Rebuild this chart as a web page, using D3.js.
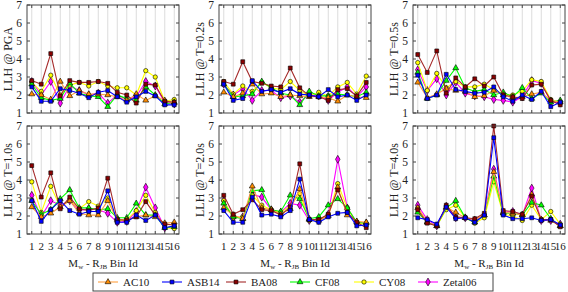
<!DOCTYPE html>
<html>
<head>
<meta charset="utf-8">
<script src="https://cdn.jsdelivr.net/npm/d3@7"></script>
<style>
  body { margin: 0; background: #fff; }
  text { font-family: "Liberation Serif", "DejaVu Serif", serif; fill: #222; }
</style>
</head>
<body>
<div id="root"></div>
<script>
// bins and panels
const bins = [1, 2, 3, 4, 5, 6, 7, 8, 9, 10, 11, 12, 13, 14, 15, 16];
const periods = ["PGA", "T=0.2s", "T=0.5s", "T=1.0s", "T=2.0s", "T=4.0s"];
const yTicks = [1, 2, 3, 4, 5, 6, 7];
const models = ["AC10", "ASB14", "BA08", "CF08", "CY08", "Zetal06"];

// LLH per model, one row per period (PGA, 0.2, 0.5, 1.0, 2.0, 4.0)
const AC10 = [
  [2.05, 2.0, 1.75, 2.75, 1.95, 2.25, 2.05, 2.05, 2.0, 1.9, 1.7, 2.05, 1.7, 1.95, 1.7, 1.55],
  [2.15, 1.9, 2.1, 2.6, 2.05, 2.1, 1.9, 2.0, 1.95, 1.9, 1.9, 1.85, 1.65, 2.0, 1.9, 1.85],
  [2.7, 1.85, 2.05, 2.35, 2.25, 2.2, 1.9, 1.95, 2.25, 2.0, 1.85, 1.9, 2.05, 2.15, 1.7, 1.6],
  [2.5, 1.95, 2.15, 2.5, 2.85, 2.15, 2.05, 2.05, 2.85, 1.8, 1.8, 1.95, 2.05, 1.95, 1.6, 1.65],
  [2.45, 2.05, 1.85, 3.65, 2.45, 2.35, 2.1, 2.4, 3.5, 1.8, 1.75, 2.0, 3.6, 2.05, 1.7, 1.65],
  [2.45, 1.65, 1.45, 2.5, 2.2, 1.9, 1.8, 2.05, 4.45, 2.2, 2.15, 2.05, 3.2, 1.8, 1.75, 1.45]
];
const ASB14 = [
  [2.45, 1.65, 1.65, 2.35, 2.25, 2.1, 1.85, 2.15, 2.25, 1.9, 1.6, 1.9, 2.2, 1.95, 1.45, 1.45],
  [2.6, 1.7, 1.8, 2.8, 2.2, 2.3, 2.15, 2.35, 2.05, 2.0, 1.9, 2.3, 1.9, 2.0, 1.7, 2.0],
  [3.1, 1.8, 2.0, 3.15, 2.3, 2.2, 2.1, 2.15, 2.45, 1.9, 1.65, 2.0, 1.75, 2.2, 1.35, 1.6],
  [2.85, 1.7, 2.35, 2.85, 2.3, 2.1, 2.25, 2.25, 3.4, 1.65, 1.65, 2.05, 1.75, 2.05, 1.35, 1.45],
  [2.3, 1.65, 1.65, 3.05, 2.05, 2.1, 1.95, 2.3, 4.05, 1.8, 1.65, 1.95, 2.15, 2.2, 1.45, 1.5],
  [1.9, 1.8, 1.55, 2.5, 1.85, 1.9, 1.65, 2.05, 6.35, 2.05, 1.85, 1.85, 1.9, 1.75, 1.8, 1.5]
];
const BA08 = [
  [2.8, 2.6, 4.3, 1.95, 2.8, 2.7, 2.7, 2.75, 2.65, 2.15, 2.0, 1.55, 2.6, 2.55, 1.65, 1.6],
  [2.75, 2.6, 3.85, 2.75, 2.65, 2.5, 2.45, 3.5, 2.4, 1.95, 1.9, 1.7, 2.3, 2.35, 1.95, 2.7],
  [4.25, 3.25, 4.45, 2.1, 2.95, 2.45, 2.9, 2.5, 3.0, 2.0, 1.9, 1.8, 2.55, 2.6, 1.7, 1.45],
  [4.8, 3.05, 4.4, 2.4, 3.05, 2.4, 2.3, 2.45, 4.1, 1.8, 1.75, 1.95, 2.8, 2.05, 1.55, 1.5],
  [3.15, 2.1, 2.35, 2.9, 2.35, 2.3, 2.05, 2.5, 4.9, 1.8, 1.8, 2.1, 3.45, 2.2, 1.65, 1.35],
  [2.35, 1.6, 1.45, 2.6, 1.95, 1.9, 1.85, 2.15, 7.0, 2.3, 2.25, 2.1, 3.1, 1.8, 1.8, 1.4]
];
const CF08 = [
  [2.6, 1.85, 1.7, 1.8, 2.65, 2.1, 1.95, 1.9, 1.35, 2.0, 1.8, 1.7, 2.45, 2.0, 1.5, 1.6],
  [2.6, 1.9, 1.95, 2.05, 2.75, 2.4, 2.1, 2.0, 1.45, 2.2, 1.95, 1.95, 2.05, 2.0, 1.9, 2.15],
  [3.25, 1.8, 2.0, 2.8, 3.5, 2.4, 2.2, 2.3, 2.0, 2.15, 1.9, 2.4, 1.8, 2.1, 1.6, 1.7],
  [2.85, 2.1, 2.35, 2.95, 3.45, 2.45, 2.45, 2.35, 2.4, 1.9, 1.9, 2.7, 2.05, 2.05, 1.35, 1.4],
  [2.7, 1.95, 1.85, 3.4, 3.45, 2.35, 2.25, 3.15, 2.95, 1.85, 1.95, 2.6, 2.95, 2.45, 1.65, 1.6],
  [2.2, 1.65, 1.45, 2.45, 2.85, 1.9, 1.65, 2.05, 4.2, 2.15, 2.15, 2.05, 2.75, 2.6, 1.85, 1.45]
];
const CY08 = [
  [2.7, 2.2, 3.1, 2.0, 2.55, 2.7, 2.5, 2.75, 2.5, 2.4, 2.4, 2.0, 3.35, 3.0, 1.65, 1.75],
  [2.75, 2.05, 2.5, 2.2, 2.7, 2.4, 2.3, 2.75, 2.25, 1.95, 2.15, 1.95, 2.45, 2.7, 2.05, 3.05],
  [3.8, 2.25, 3.2, 2.4, 2.75, 2.45, 2.45, 2.6, 2.3, 2.05, 2.0, 2.2, 2.85, 2.75, 1.75, 1.6],
  [3.9, 2.2, 3.65, 2.5, 2.9, 2.4, 2.8, 2.55, 3.0, 1.7, 1.8, 2.3, 3.15, 2.2, 1.35, 1.3],
  [2.85, 1.9, 1.95, 3.15, 2.6, 2.35, 2.2, 2.55, 3.25, 1.75, 1.75, 2.05, 3.8, 2.45, 1.6, 1.55],
  [2.45, 1.65, 1.45, 2.35, 2.6, 1.9, 1.6, 1.9, 3.9, 2.1, 2.0, 1.75, 2.6, 1.8, 2.25, 1.55]
];
const Zetal06 = [
  [2.75, 2.0, 2.75, 1.55, 2.5, 2.25, 2.0, 2.1, 1.55, 2.0, 1.75, 1.9, 2.75, 2.5, 1.6, 1.5],
  [2.6, 2.0, 2.35, 1.7, 2.25, 2.25, 1.85, 1.95, 1.6, 2.05, 1.95, 1.7, 2.15, 2.45, 1.9, 2.45],
  [3.4, 2.25, 2.9, 2.0, 2.7, 2.1, 1.95, 1.9, 1.75, 1.7, 1.6, 1.9, 2.8, 2.65, 1.65, 1.55],
  [3.15, 1.95, 2.85, 2.6, 2.85, 2.3, 2.4, 2.35, 2.15, 1.65, 1.7, 2.25, 3.6, 2.45, 1.35, 1.4],
  [2.85, 1.9, 1.95, 3.2, 3.05, 2.35, 2.2, 2.7, 2.6, 1.75, 1.75, 2.1, 5.15, 2.45, 1.65, 1.6],
  [2.6, 1.8, 1.45, 2.55, 1.9, 1.9, 1.75, 2.05, 4.6, 2.2, 2.25, 2.05, 3.55, 1.75, 1.75, 1.55]
];
const series = { AC10, ASB14, BA08, CF08, CY08, Zetal06 };

// styles
const lineColor = { AC10: "#ffa040", ASB14: "#0000ff", BA08: "#a52a2a", CF08: "#00ff00", CY08: "#ffff00", Zetal06: "#ff00ff" };
const fillColor = { AC10: "#ff8c00", ASB14: "#0000ff", BA08: "#8b0000", CF08: "#00ff00", CY08: "#ffff00", Zetal06: "#ff00ff" };
const shape = { AC10: d3.symbolTriangle, ASB14: d3.symbolSquare, BA08: d3.symbolSquare, CF08: d3.symbolTriangle, CY08: d3.symbolCircle, Zetal06: d3.symbolDiamond };
const drawOrder = ["Zetal06", "CY08", "CF08", "AC10", "BA08", "ASB14"];

const W = 568, H = 292;
const panelX = [27, 219, 413], panelW = 152;
const panelY = [5, 126], panelH = 108;

const svg = d3.select("#root").append("svg").attr("width", W).attr("height", H);

let x = d3.scaleLinear().domain([0.5, 16.5]).range([0, panelW]);
let y = d3.scaleLinear().domain([1, 7]).range([panelH, 0]);
let line = d3.line().x(d => x(d.bin)).y(d => y(d.v));
let marker = m => d3.symbol().type(shape[m]).size(shape[m] === d3.symbolDiamond ? 18 : 15);

let drawPanel = (p) => {
  let col = p % 3, row = Math.floor(p / 3);
  let g = svg.append("g").attr("transform", `translate(${panelX[col]},${panelY[row]})`);

  // grid
  g.selectAll(".grid").data(bins).join("line")
    .attr("x1", d => x(d)).attr("x2", d => x(d))
    .attr("y1", 0).attr("y2", panelH)
    .attr("stroke", "#dcdcdc").attr("stroke-width", 1);

  // y ticks
  g.selectAll(".yl").data(yTicks).join("g").each(function(d) {
    let t = d3.select(this);
    t.append("line").attr("x1", 0).attr("x2", 3).attr("y1", y(d)).attr("y2", y(d)).attr("stroke", "#444");
    t.append("line").attr("x1", panelW - 3).attr("x2", panelW).attr("y1", y(d)).attr("y2", y(d)).attr("stroke", "#444");
    t.append("text").attr("x", -5).attr("y", y(d)).attr("dy", "0.35em")
      .attr("text-anchor", "end").attr("font-size", 11.5).text(d);
  });

  // x ticks
  g.selectAll(".xt").data(bins).join("g").each(function(d) {
    let t = d3.select(this);
    t.append("line").attr("x1", x(d)).attr("x2", x(d)).attr("y1", panelH).attr("y2", panelH - 3).attr("stroke", "#444");
    t.append("line").attr("x1", x(d)).attr("x2", x(d)).attr("y1", 0).attr("y2", 3).attr("stroke", "#444");
  });
  if (row === 1) {
    g.selectAll(".xl").data(bins).join("text")
      .attr("x", d => x(d)).attr("y", panelH + 16)
      .attr("text-anchor", "middle").attr("font-size", 11).text(d => d);
    let title = g.append("text").attr("x", panelW / 2).attr("y", 267 - panelY[1])
      .attr("text-anchor", "middle").attr("font-size", 11);
    title.append("tspan").text("M");
    title.append("tspan").attr("font-size", 7).attr("dy", 2).text("w");
    title.append("tspan").attr("dy", -2).text(" - R");
    title.append("tspan").attr("font-size", 7).attr("dy", 2).text("JB");
    title.append("tspan").attr("dy", -2).text(" Bin Id");
  }

  // y label
  g.append("text")
    .attr("transform", `translate(${-19},${panelH / 2}) rotate(-90)`)
    .attr("dy", "0.35em").attr("text-anchor", "middle").attr("font-size", 12)
    .text("LLH @ " + periods[p]);

  // series
  drawOrder.forEach(m => {
    let pts = bins.map((b, i) => ({ bin: b, v: series[m][p][i] }));
    g.append("path").datum(pts).attr("d", line)
      .attr("fill", "none").attr("stroke", lineColor[m]).attr("stroke-width", 1.1);
    g.selectAll(null).data(pts).join("path")
      .attr("transform", d => `translate(${x(d.bin)},${y(d.v)})`)
      .attr("d", marker(m))
      .attr("fill", fillColor[m]).attr("stroke", "#000").attr("stroke-width", 0.6);
  });

  // frame
  g.append("rect").attr("width", panelW).attr("height", panelH)
    .attr("fill", "none").attr("stroke", "#444").attr("stroke-width", 1);
};

periods.forEach((_, p) => drawPanel(p));

// legend
let legend = svg.append("g").attr("transform", "translate(93,273)");
legend.append("rect").attr("width", 400).attr("height", 18)
  .attr("fill", "none").attr("stroke", "#444");
models.forEach((m, i) => {
  let e = legend.append("g").attr("transform", `translate(${5 + i * 64},9)`);
  e.append("line").attr("x1", 0).attr("x2", 20).attr("stroke", lineColor[m]).attr("stroke-width", 1.1);
  e.append("path").attr("transform", "translate(10,0)")
    .attr("d", marker(m))
    .attr("fill", fillColor[m]).attr("stroke", "#000").attr("stroke-width", 0.6);
  e.append("text").attr("x", 25).attr("dy", "0.35em").attr("font-size", 11).text(m);
});
</script>
</body>
</html>
